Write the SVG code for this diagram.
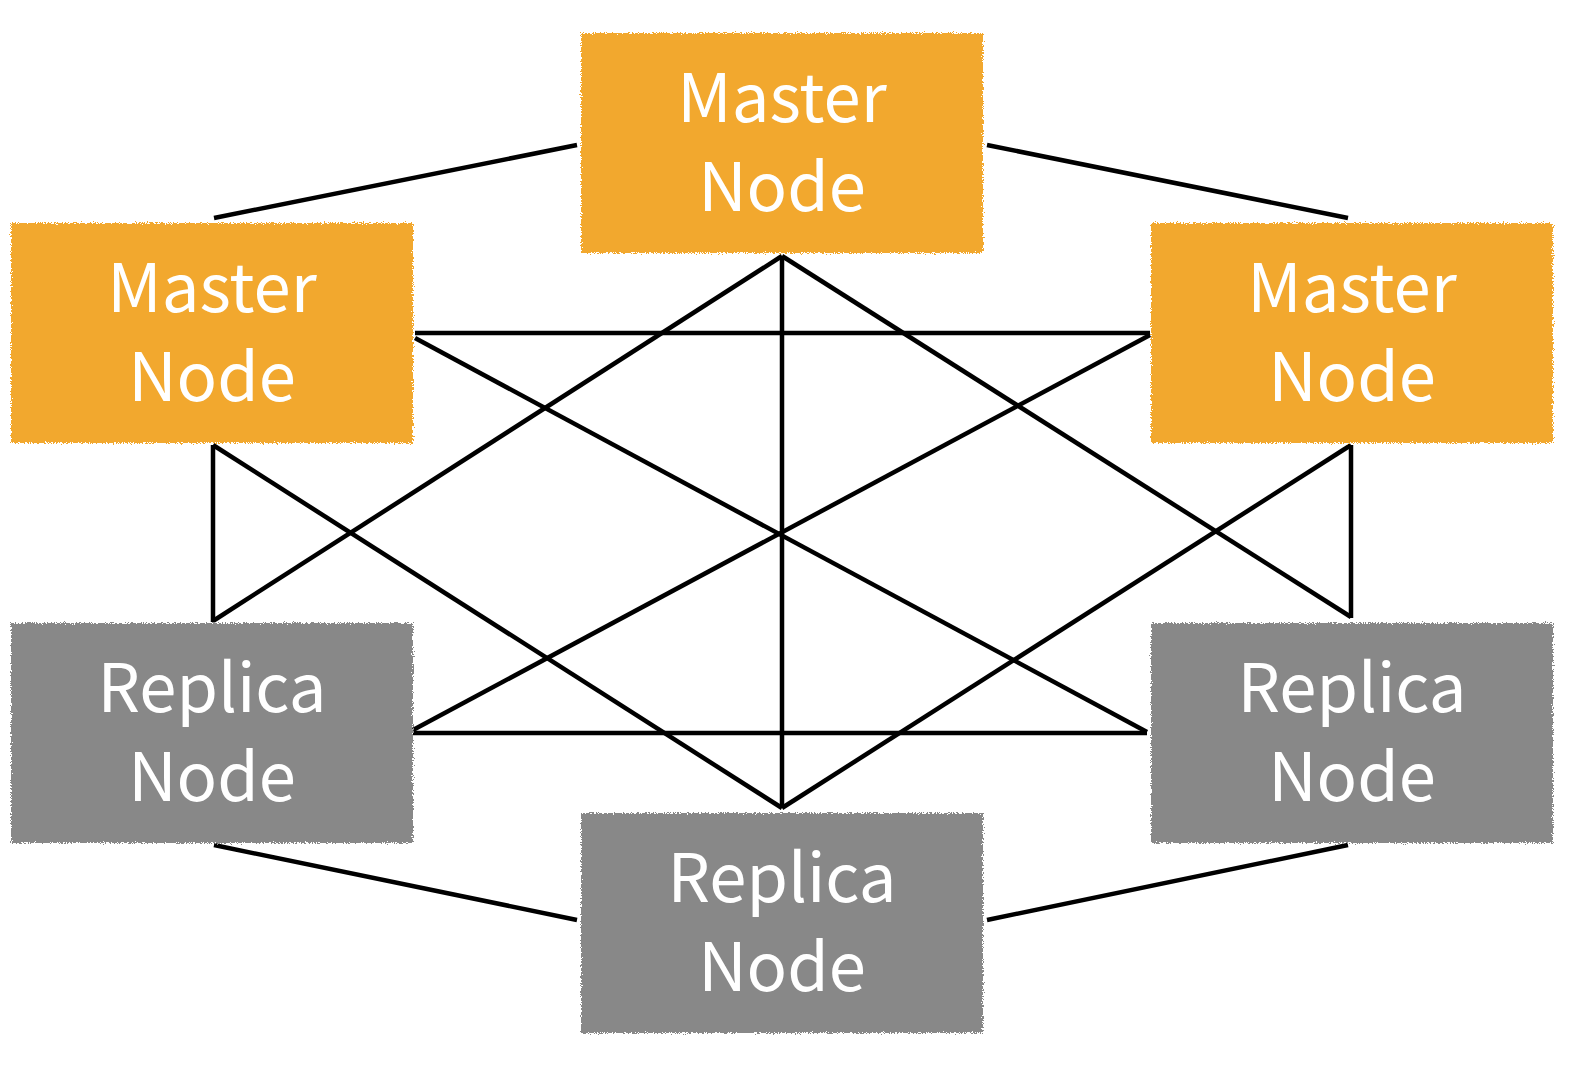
<svg xmlns="http://www.w3.org/2000/svg" width="1576" height="1066" viewBox="0 0 1576 1066">
<style>
.master{fill:#F2A82F}
.replica{fill:#888888}
.box{filter:url(#rough)}
.lbl{font-family:"Noto Sans CJK KR","Open Sans",sans-serif;font-size:67px;fill:#FFFFFF;text-anchor:middle}
.conn line{stroke:#000000;stroke-width:4.5;stroke-linecap:butt}
</style>
<defs>
<filter id="rough" x="-2%" y="-3%" width="104%" height="106%">
<feTurbulence type="fractalNoise" baseFrequency="0.9" numOctaves="2" seed="3" result="n"/>
<feDisplacementMap in="SourceGraphic" in2="n" scale="6" xChannelSelector="R" yChannelSelector="G"/>
</filter>
</defs>
<rect width="1576" height="1066" fill="#FFFFFF"/>
<g id="connectors" class="conn">
<line x1="577" y1="145" x2="214" y2="218"/>
<line x1="987" y1="145" x2="1348" y2="218"/>
<line x1="415" y1="333" x2="1150" y2="333"/>
<line x1="415" y1="338" x2="1147" y2="732"/>
<line x1="1150" y1="335" x2="413" y2="730"/>
<line x1="413" y1="733" x2="1147" y2="733"/>
<line x1="782" y1="256" x2="213" y2="621"/>
<line x1="782" y1="256" x2="1351" y2="617"/>
<line x1="782" y1="256" x2="782" y2="808"/>
<line x1="213" y1="445" x2="213" y2="622"/>
<line x1="213" y1="445" x2="782" y2="808"/>
<line x1="1351" y1="445" x2="782" y2="808"/>
<line x1="1351" y1="445" x2="1351" y2="618"/>
<line x1="214" y1="845" x2="577" y2="920"/>
<line x1="987" y1="920" x2="1348" y2="845"/>
</g>
<g id="master-top">
<rect class="box master" x="581" y="33" width="402" height="220"/>
<text class="lbl" x="782" y="122">Master</text>
<text class="lbl" x="782" y="211">Node</text>
</g>
<g id="master-left">
<rect class="box master" x="11" y="223" width="402" height="220"/>
<text class="lbl" x="212" y="312">Master</text>
<text class="lbl" x="212" y="401">Node</text>
</g>
<g id="master-right">
<rect class="box master" x="1151" y="223" width="402" height="220"/>
<text class="lbl" x="1352" y="312">Master</text>
<text class="lbl" x="1352" y="401">Node</text>
</g>
<g id="replica-left">
<rect class="box replica" x="11" y="623" width="402" height="220"/>
<text class="lbl" x="212" y="712">Replica</text>
<text class="lbl" x="212" y="801">Node</text>
</g>
<g id="replica-right">
<rect class="box replica" x="1151" y="623" width="402" height="220"/>
<text class="lbl" x="1352" y="712">Replica</text>
<text class="lbl" x="1352" y="801">Node</text>
</g>
<g id="replica-bottom">
<rect class="box replica" x="581" y="813" width="402" height="220"/>
<text class="lbl" x="782" y="902">Replica</text>
<text class="lbl" x="782" y="991">Node</text>
</g>
</svg>
